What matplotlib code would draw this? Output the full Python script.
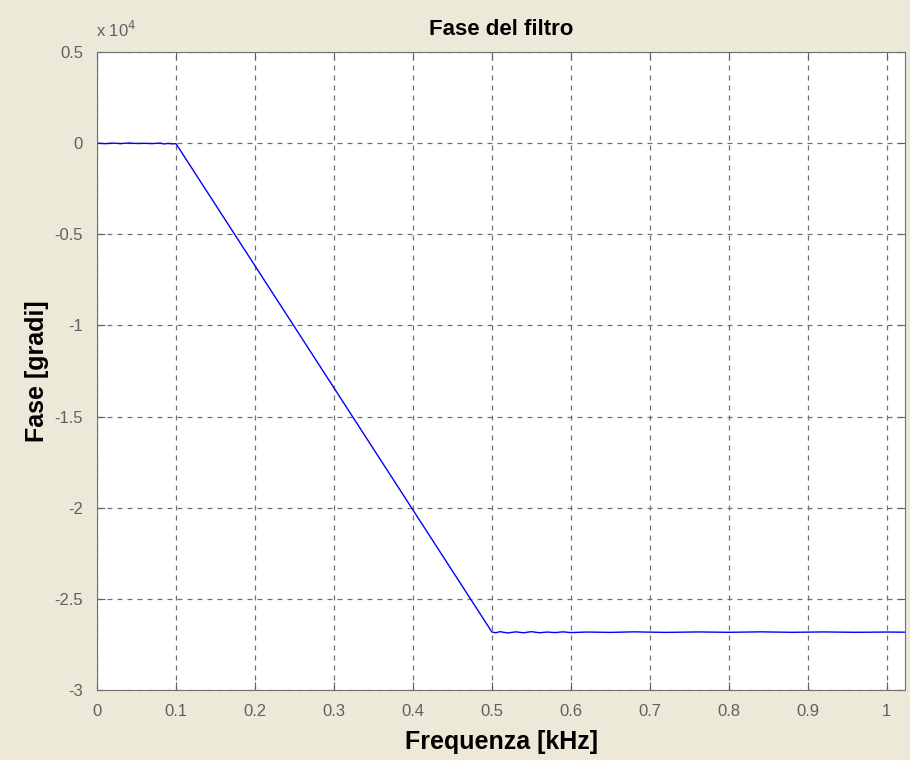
import matplotlib.pyplot as plt
from matplotlib.ticker import FuncFormatter

# frequency [kHz] and phase [degrees]
freq = [0.0, 0.01, 0.02, 0.03, 0.04, 0.05, 0.06, 0.07, 0.08, 0.085, 0.09, 0.095, 0.1,
        0.5, 0.505, 0.51, 0.52, 0.53, 0.54, 0.55, 0.56, 0.57, 0.58, 0.59, 0.60, 0.62,
        0.65, 0.68, 0.72, 0.76, 0.80, 0.84, 0.88, 0.92, 0.96, 1.0, 1.024]
phase = [0, -30, 0, -25, 5, -20, -10, -25, 0, -45, -15, -40, -30,
         -26820, -26860, -26800, -26870, -26810, -26860, -26800, -26860, -26820, -26850,
         -26810, -26850, -26820, -26840, -26810, -26840, -26815, -26835, -26810,
         -26835, -26815, -26835, -26820, -26830]

xticks = [0, 0.1, 0.2, 0.3, 0.4, 0.5, 0.6, 0.7, 0.8, 0.9, 1]
yticks = [-30000, -25000, -20000, -15000, -10000, -5000, 0, 5000]

bg = '#ECE9D8'
fig = plt.figure(figsize=(9.1, 7.6), dpi=100, facecolor=bg)
ax = fig.add_axes([0.1066, 0.0921, 0.8879, 0.8395])

ax.plot(freq, phase, color='#0000FF', linewidth=1.0)

ax.set_xlim(0, 1.023)
ax.set_ylim(-30000, 5000)
ax.set_xticks(xticks)
ax.set_yticks(yticks)
ax.xaxis.set_major_formatter(FuncFormatter(lambda v, p: '%g' % v))
ax.yaxis.set_major_formatter(FuncFormatter(lambda v, p: '%g' % (v / 1e4)))

ax.grid(True, linestyle=(0, (4, 4)), color='#707070', linewidth=0.9)
ax.tick_params(direction='in', top=True, right=True, length=6, color='#606060',
               labelcolor='#606060', labelsize=12)
ax.tick_params(axis='x', pad=10)
ax.tick_params(axis='y', pad=10)
for s in ax.spines.values():
    s.set_color('#707070')

ax.set_title('Fase del filtro', fontsize=16, fontweight='bold', family='Liberation Sans', pad=12)
ax.set_xlabel('Frequenza [kHz]', fontsize=18, fontweight='bold', family='Liberation Sans', labelpad=8)
ax.set_ylabel('Fase [gradi]', fontsize=18, fontweight='bold', family='Liberation Sans', labelpad=4)
for lab in ax.get_xticklabels() + ax.get_yticklabels():
    lab.set_family('Liberation Sans')
ax.text(-0.001, 1.018, r'x 10$^4$', transform=ax.transAxes, fontsize=12, color='#606060',
        family='Liberation Sans', va='bottom', ha='left')

fig.savefig('out.png', dpi=100, facecolor=bg)
